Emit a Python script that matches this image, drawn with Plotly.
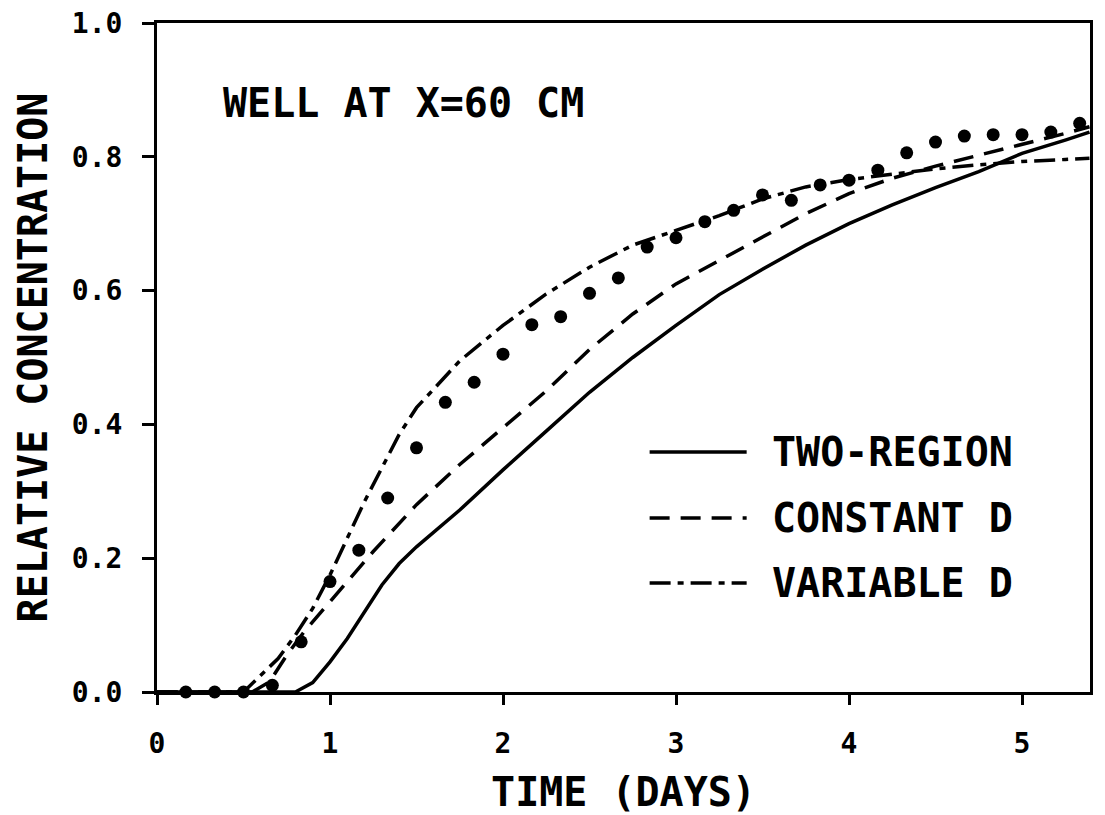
import plotly.graph_objects as go

# ---- data ----
obs_time = [k / 6 for k in range(1, 33)]
obs_conc = [0.0, 0.0, 0.0, 0.01, 0.075, 0.165, 0.212, 0.29, 0.365, 0.433, 0.463, 0.505,
            0.549, 0.561, 0.596, 0.619, 0.665, 0.679, 0.703, 0.72, 0.743, 0.735, 0.758,
            0.765, 0.78, 0.806, 0.822, 0.831, 0.833, 0.833, 0.837, 0.85]

two_time = [0, 0.80, 0.90, 1.00, 1.10, 1.20, 1.30, 1.40, 1.50, 1.75, 2.00, 2.25, 2.50,
            2.75, 3.00, 3.25, 3.50, 3.75, 4.00, 4.25, 4.50, 4.75, 5.00, 5.25, 5.39]
two_region = [0, 0, 0.014, 0.045, 0.08, 0.12, 0.16, 0.192, 0.217, 0.272, 0.332, 0.39, 0.448,
              0.50, 0.548, 0.594, 0.632, 0.668, 0.70, 0.728, 0.754, 0.778, 0.805, 0.825, 0.837]

const_time = [0, 0.55, 0.65, 0.75, 0.85, 1.00, 1.25, 1.50, 1.75, 2.00, 2.25, 2.50, 2.75,
              3.00, 3.25, 3.50, 3.75, 4.00, 4.25, 4.50, 4.75, 5.00, 5.25, 5.39]
constant_d = [0, 0, 0.015, 0.055, 0.09, 0.135, 0.21, 0.28, 0.34, 0.395, 0.45, 0.512,
              0.565, 0.61, 0.645, 0.68, 0.715, 0.745, 0.768, 0.786, 0.802, 0.818, 0.835, 0.845]

var_time = [0, 0.50, 0.60, 0.70, 0.80, 0.90, 1.00, 1.10, 1.20, 1.30, 1.40, 1.50, 1.75,
            2.00, 2.25, 2.50, 2.75, 3.00, 3.25, 3.50, 3.75, 4.00, 4.25, 4.50, 4.75, 5.00,
            5.25, 5.39]
variable_d = [0, 0, 0.025, 0.05, 0.085, 0.125, 0.175, 0.23, 0.285, 0.335, 0.385, 0.425,
              0.495, 0.548, 0.595, 0.635, 0.668, 0.69, 0.712, 0.737, 0.755, 0.766, 0.774,
              0.782, 0.788, 0.793, 0.796, 0.798]

x_ticks = [0, 1, 2, 3, 4, 5]
y_ticks = [0.0, 0.2, 0.4, 0.6, 0.8, 1.0]

FONT = "DejaVu Sans Mono"
BIG = 40
DASHED = "20px,11px"
DASHDOT = "21px,7px,6px,7px"
LW = 3.5

fig = go.Figure()
fig.add_trace(go.Scatter(x=two_time, y=two_region, mode="lines", name="TWO-REGION",
                         line=dict(color="black", width=LW), showlegend=False, cliponaxis=False))
fig.add_trace(go.Scatter(x=const_time, y=constant_d, mode="lines", name="CONSTANT D",
                         line=dict(color="black", width=LW, dash=DASHED), showlegend=False,
                         cliponaxis=False))
fig.add_trace(go.Scatter(x=var_time, y=variable_d, mode="lines", name="VARIABLE D",
                         line=dict(color="black", width=LW, dash=DASHDOT), showlegend=False,
                         cliponaxis=False))
fig.add_trace(go.Scatter(x=obs_time, y=obs_conc, mode="markers", name="OBSERVED",
                         marker=dict(color="black", size=13), showlegend=False,
                         cliponaxis=False))

# manual legend (keys in paper coordinates)
legend_items = [("TWO-REGION", "solid", 0.3587), ("CONSTANT D", DASHED, 0.2601),
                ("VARIABLE D", DASHDOT, 0.1629)]
for label, dash, yp in legend_items:
    fig.add_shape(type="line", xref="paper", yref="paper", x0=0.528, x1=0.632, y0=yp, y1=yp,
                  line=dict(color="black", width=LW, dash=dash))
    fig.add_annotation(text=label, xref="paper", yref="paper", x=0.657, y=yp,
                       xanchor="left", yanchor="middle", showarrow=False,
                       font=dict(family=FONT, size=BIG, color="black", weight="bold"))

fig.add_annotation(text="WELL AT X=60 CM", xref="paper", yref="paper", x=0.069, y=0.88,
                   xanchor="left", yanchor="middle", showarrow=False,
                   font=dict(family=FONT, size=BIG, color="black", weight="bold"))

axis_common = dict(showline=True, linewidth=3, linecolor="black", mirror=True,
                   showgrid=False, zeroline=False, ticks="outside", tickwidth=3,
                   tickcolor="black", automargin=False,
                   tickfont=dict(family=FONT, size=28, color="black", weight="bold"))

fig.update_xaxes(range=[0, 5.393], tickvals=x_ticks, ticktext=[str(v) for v in x_ticks],
                 ticklen=10, ticklabelstandoff=14,
                 title=dict(text="TIME (DAYS)", standoff=30,
                            font=dict(family=FONT, size=BIG, color="black", weight="bold")),
                 **axis_common)
fig.update_yaxes(range=[0, 1.0], tickvals=y_ticks, ticktext=[f"{v:.1f}" for v in y_ticks],
                 ticklen=12, ticklabelstandoff=14,
                 title=dict(text="RELATIVE CONCENTRATION", standoff=12,
                            font=dict(family=FONT, size=BIG, color="black", weight="bold")),
                 **axis_common)

fig.update_layout(width=1105, height=815, margin=dict(l=157, r=15, t=23, b=123),
                  plot_bgcolor="white", paper_bgcolor="white", showlegend=False)

fig.write_html("out.html")
